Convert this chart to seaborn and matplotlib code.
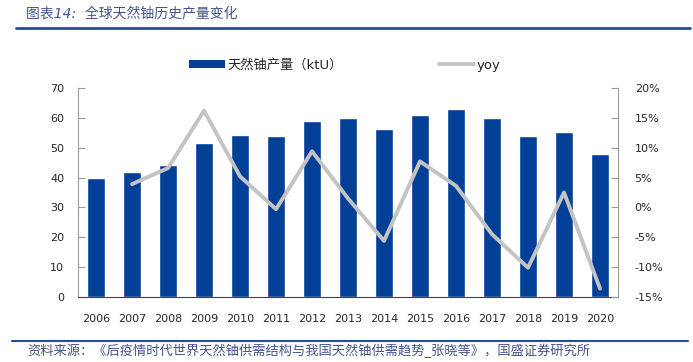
import matplotlib
matplotlib.use("Agg")
import matplotlib.pyplot as plt
import matplotlib.ticker as mticker
from matplotlib.lines import Line2D
from matplotlib.patches import Patch
import numpy as np
import pandas as pd
import seaborn as sns

# data
years = ['2006', '2007', '2008', '2009', '2010', '2011', '2012', '2013',
         '2014', '2015', '2016', '2017', '2018', '2019', '2020']
output_ktu = [40.0, 41.8, 44.3, 51.5, 54.1, 53.9, 58.9, 59.8,
              56.4, 60.8, 62.8, 59.8, 53.9, 55.2, 47.8]
yoy_pct = [np.nan, 3.9, 6.6, 16.2, 5.2, -0.3, 9.4, 1.5,
           -5.6, 7.7, 3.6, -4.5, -10.1, 2.5, -13.6]

bar_label = '天然铀产量（ktU）'
line_label = 'yoy'
title_text = '图表14:  全球天然铀历史产量变化'
source_text = '资料来源：《后疫情时代世界天然铀供需结构与我国天然铀供需趋势_张晓等》，国盛证券研究所'

df = pd.DataFrame({'year': years, 'output': output_ktu, 'yoy': yoy_pct})
df['pos'] = np.arange(len(df))

sns.set_style("white")
plt.rcParams['font.family'] = ['DejaVu Sans', 'Noto Sans CJK SC']

blue = '#023F96'
grey = '#C3C3C3'
note_col = '#45558A'

fig = plt.figure(figsize=(6.93, 3.62), dpi=100)
ax = fig.add_axes([0.1126, 0.1796, 0.7792, 0.5773])

sns.barplot(data=df, x='year', y='output', color=blue, saturation=1,
            width=0.49, ax=ax)
ax.set_ylim(0, 70)
ax.set_yticks(range(0, 71, 10))
ax.set_xlim(-0.5, len(years) - 0.5)
ax.set_xlabel('')
ax.set_ylabel('')

ax2 = ax.twinx()
sns.lineplot(data=df, x='pos', y='yoy', color=grey, linewidth=2.8, ax=ax2)
ax2.set_ylim(-15, 20)
ax2.set_yticks(range(-15, 21, 5))
ax2.yaxis.set_major_formatter(mticker.FuncFormatter(lambda v, p: f'{v:.0f}%'))
ax2.set_xlim(-0.5, len(years) - 0.5)
ax2.set_xlabel('')
ax2.set_ylabel('')

# spines / ticks styled like the excel original
for a in (ax, ax2):
    a.spines['top'].set_visible(False)
ax.spines['right'].set_visible(False)
ax2.spines['left'].set_visible(False)
ax2.spines['bottom'].set_visible(False)
ax.spines['left'].set_color('#9A9A9A')
ax2.spines['right'].set_color('#9A9A9A')
ax.spines['bottom'].set_color('#444444')

ax.set_xticks(np.arange(len(years)))
ax.set_xticklabels(years)
ax.tick_params(axis='x', length=0, pad=12, labelsize=8)
# category boundary ticks
ax.set_xticks(np.arange(len(years) + 1) - 0.5, minor=True)
ax.tick_params(axis='x', which='minor', direction='in', length=4,
               color='#777777', width=0.8)
ax.tick_params(axis='y', direction='in', length=5, color='#9A9A9A',
               labelsize=8, pad=10, left=True)
ax2.tick_params(axis='y', direction='in', length=5, color='#9A9A9A',
                labelsize=8, pad=12, right=True)

handles = [Patch(facecolor=blue, edgecolor='none'),
           Line2D([0], [0], color=grey, linewidth=2.8)]
leg = ax.legend(handles, [bar_label, line_label], ncol=2, frameon=False,
                loc='center', bbox_to_anchor=(0.494, 1.11), fontsize=9.5,
                handlelength=2.7, handleheight=0.6, handletextpad=0.15,
                columnspacing=7.3)

fig.text(0.037, 0.962, title_text, fontsize=10, color=note_col,
         style='italic', va='center', ha='left')
fig.add_artist(Line2D([0.023, 0.995], [0.923, 0.923], color='#1F4E9A',
                      linewidth=2, transform=fig.transFigure))
fig.add_artist(Line2D([0.017, 0.993], [0.058, 0.058], color='#1F4E9A',
                      linewidth=1.5, transform=fig.transFigure))
fig.text(0.040, 0.030, source_text, fontsize=9.5, color=note_col,
         style='italic', va='center', ha='left')

fig.savefig('out.png', dpi=100)
